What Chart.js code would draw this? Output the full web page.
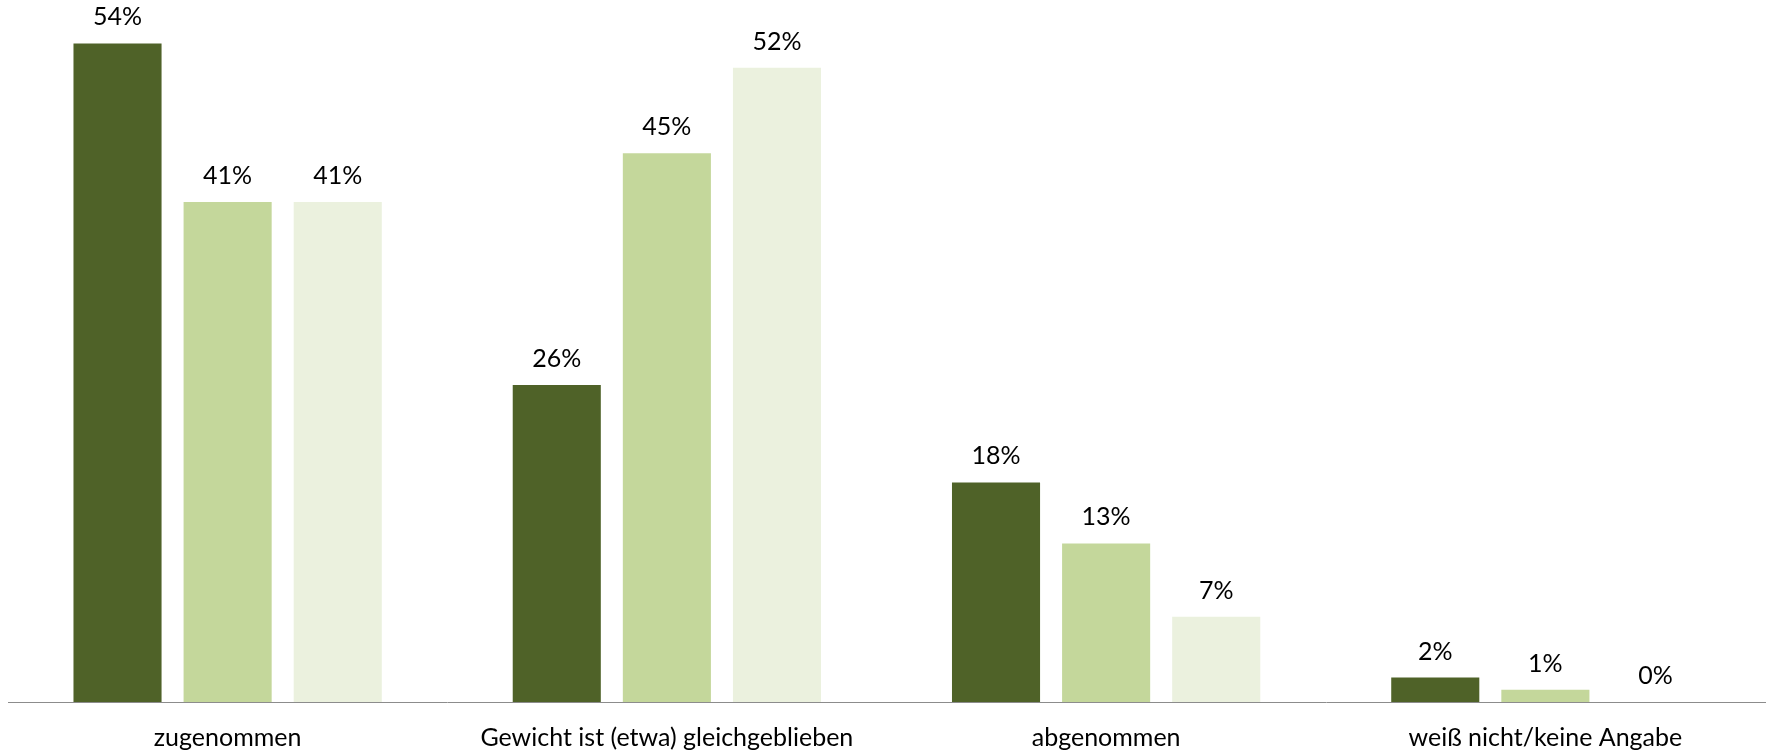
<!DOCTYPE html>
<html lang="de">
<head>
<meta charset="utf-8">
<title>Gewichtsveränderung</title>
<script src="https://cdn.jsdelivr.net/npm/chart.js@4"></script>
<style>
  html, body { margin: 0; padding: 0; background: #fff; }
  #wrap { width: 1769px; height: 751px; }
</style>
</head>
<body>
<div id="wrap"><canvas id="weight-chart" width="1769" height="751"></canvas></div>
<script>
const categories = ['zugenommen', 'Gewicht ist (etwa) gleichgeblieben', 'abgenommen', 'weiß nicht/keine Angabe'];
const seriesA = [54, 26, 18, 2];
const seriesB = [41, 45, 13, 1];
const seriesC = [41, 52, 7, 0];
const seriesColors = ['#4f6228', '#c4d79b', '#ebf1de'];

const FONT = 'Lato, "Liberation Sans", sans-serif';

// percentage labels above every bar
const valueLabels = {
  id: 'valueLabels',
  afterDatasetsDraw(chart) {
    const ctx = chart.ctx;
    ctx.save();
    ctx.font = '25px ' + FONT;
    ctx.fillStyle = '#000';
    ctx.textAlign = 'center';
    ctx.textBaseline = 'alphabetic';
    chart.data.datasets.forEach((ds, i) => {
      chart.getDatasetMeta(i).data.forEach((bar, j) => {
        ctx.fillText(ds.data[j] + '%', bar.x, bar.y - 18);
      });
    });
    ctx.restore();
  },
};

const makeDataset = (data, color) => ({
  data: data,
  backgroundColor: color,
  borderWidth: 0,
  categoryPercentage: 0.752,
  barPercentage: 0.8,
});

new Chart(document.getElementById('weight-chart'), {
  type: 'bar',
  data: {
    labels: categories,
    datasets: [
      makeDataset(seriesA, seriesColors[0]),
      makeDataset(seriesB, seriesColors[1]),
      makeDataset(seriesC, seriesColors[2]),
    ],
  },
  options: {
    responsive: false,
    animation: false,
    layout: {
      padding: { top: 19, left: 8, right: 4, bottom: 0 },
    },
    scales: {
      x: {
        grid: { display: false, drawTicks: false },
        border: { display: true, color: '#8c8c8c', width: 1 },
        ticks: {
          color: '#000',
          padding: 21,
          maxRotation: 0,
          font: { family: FONT, size: 25 },
        },
        afterFit: (scale) => {
          scale.height = 49;
        },
      },
      y: {
        display: false,
        min: 0,
        max: 56,
      },
    },
    plugins: {
      legend: { display: false },
      tooltip: { enabled: false },
    },
  },
  plugins: [valueLabels],
});
</script>
</body>
</html>
